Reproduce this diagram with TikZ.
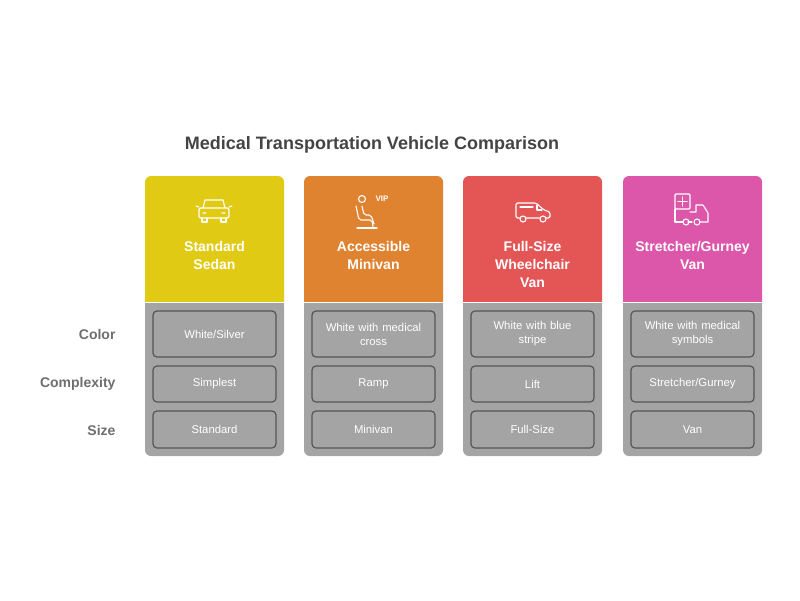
\documentclass[tikz,border=0pt]{standalone}
\usepackage{fontspec}
\setmainfont{Liberation Sans}
\usetikzlibrary{positioning, calc}
\definecolor{sedan}{HTML}{E0CA14}
\definecolor{minivan}{HTML}{E08331}
\definecolor{wheel}{HTML}{E45656}
\definecolor{gurney}{HTML}{DC56AA}
\definecolor{body}{HTML}{A4A4A4}
\definecolor{edge}{HTML}{555555}
\definecolor{ink}{HTML}{444444}
\definecolor{rowink}{HTML}{6E6E6E}
\tikzset{
  head/.style={text=white, font=\bfseries\fontsize{14}{18}\selectfont, align=center},
  cell/.style={draw=edge, line width=1.2pt, rounded corners=4pt, fill=body,
    minimum width=123pt, text width=115pt, align=center, text=white,
    font=\fontsize{11.3}{14}\selectfont},
  rowlab/.style={anchor=east, text=rowink, font=\bfseries\fontsize{14}{16}\selectfont},
  icon/.style={draw=white, line width=1.1pt, line cap=round, line join=round}
}
\begin{document}
\begin{tikzpicture}[x=1pt, y=-1pt]
\useasboundingbox (0,0) rectangle (800,600);
\node[text=ink, font=\bfseries\fontsize{18}{21}\selectfont] (title) at (372,145) {Medical Transportation Vehicle Comparison};
% columns
\foreach \i/\x/\col/\name/\ca/\cb/\cc in {
  1/145/sedan/{Standard\\Sedan}/{White/Silver}/Simplest/Standard,
  2/304/minivan/{Accessible\\Minivan}/{White with medical\\cross}/Ramp/Minivan,
  3/463/wheel/{Full-Size\\Wheelchair\\Van}/{White with blue\\stripe}/Lift/Full-Size,
  4/623/gurney/{Stretcher/Gurney\\Van}/{White with medical\\symbols}/{Stretcher/Gurney}/Van}{
  \fill[\col, rounded corners=6pt] (\x,176) rectangle (\x+139,310);
  \fill[\col] (\x,290) rectangle (\x+139,302);
  \fill[body, rounded corners=6pt] (\x,302) rectangle (\x+139,456);
  \fill[body] (\x,302) rectangle (\x+139,320);
  \draw[white, line width=1pt] (\x,302) -- (\x+139,302);
  \node[head, anchor=north] (h\i) at (\x+69.5,238) {\name};
  \node[cell, minimum height=46pt] (a\i) at (\x+69.5,334) {\ca};
  \node[cell, minimum height=36pt] (b\i) at (\x+69.5,384) {\cb};
  \node[cell, minimum height=37pt] (c\i) at (\x+69.5,429.5) {\cc};
}
\node[rowlab] (color) at (119,334) {Color};
\node[rowlab] (complexity) at (119,384) {Complexity};
\node[rowlab] (size) at (119,430) {Size};
% icon: sedan front
\draw[icon] (203,208) -- (205,200) -- (223,200) -- (225,208);
\draw[icon, rounded corners=1.5pt] (199,208) rectangle (229,218);
\draw[icon] (202,218) -- (202,222) -- (207,222) -- (207,218) (221,218) -- (221,222) -- (226,222) -- (226,218);
\draw[icon] (203,213) -- (206,213) (222,213) -- (225,213) (199,207) -- (196,206) (229,207) -- (232,206);
% icon: seat with person
\draw[icon] (362,199) circle (3.5);
\draw[icon, rounded corners=2pt] (356,206) -- (359,220) -- (372,220) -- (373,227);
\draw[icon, rounded corners=2pt] (362,206) -- (364,215) -- (371,215) -- (374,224);
\draw[icon] (357,228) -- (377,228);
\node[text=white, font=\bfseries\fontsize{8}{9}\selectfont] (vip) at (382,199) {VIP};
% icon: van side
\draw[icon, rounded corners=1.5pt] (516,218) -- (516,203) -- (536,203) -- (544,210) -- (550,212) -- (550,218) -- cycle;
\draw[icon] (537,205) -- (537,210) -- (542,210);
\draw[icon] (520,207) -- (533,207);
\fill[wheel] (523,219) circle (3.5) (543,219) circle (3.5);
\draw[icon] (523,219) circle (3) (543,219) circle (3);
% icon: ambulance with cross
\draw[icon, rounded corners=1pt] (675,194) rectangle (690,209);
\draw[icon] (682.5,197) -- (682.5,206) (678,201.5) -- (687,201.5);
\draw[icon] (690,212) -- (696,212) -- (696,205) -- (703,205) -- (708,213) -- (708,222) -- (700,222);
\draw[icon] (675,209) -- (675,222) -- (683,222) (688,222) -- (692,222);
\draw[icon] (686,222) circle (3) (697,222) circle (3);
\end{tikzpicture}
\end{document}
